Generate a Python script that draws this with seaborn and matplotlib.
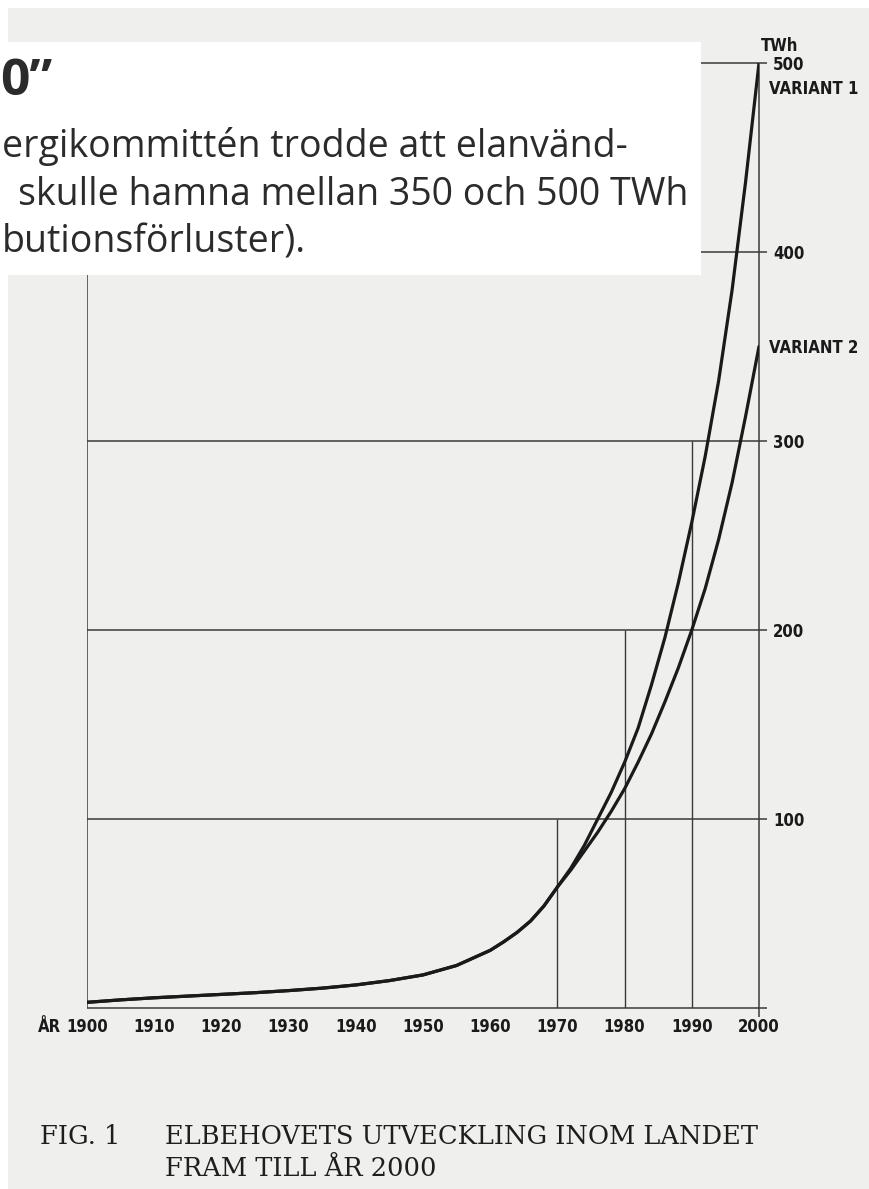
import matplotlib
matplotlib.use("Agg")
import matplotlib.pyplot as plt
import seaborn as sns
import pandas as pd
from matplotlib.patches import Rectangle

# --- data (TWh) ---
years_common = [1900, 1905, 1910, 1915, 1920, 1925, 1930, 1935, 1940, 1945,
                1950, 1955, 1960, 1962, 1964, 1966, 1968, 1970]
twh_common = [3.0, 4.3, 5.4, 6.3, 7.2, 8.1, 9.2, 10.5, 12.2, 14.5,
              17.5, 22.5, 30.5, 35, 40, 46, 54, 64]

years_forecast = [1972, 1974, 1976, 1978, 1980, 1982, 1984, 1986, 1988, 1990,
                  1992, 1994, 1996, 1998, 2000]
twh_variant1 = [74, 86, 100, 114, 130, 148, 171, 196, 225, 257,
                292, 332, 380, 437, 500]
twh_variant2 = [73, 83, 93, 104, 116, 130, 145, 162, 180, 200,
                222, 248, 278, 313, 350]

x_ticks = list(range(1900, 2001, 10))
y_ticks = [100, 200, 300, 400, 500]
inner_vlines = [1970, 1980, 1990]
inner_vtops = [100, 200, 300]
variant_labels = ["VARIANT 1", "VARIANT 2"]

rows = []
for name, fc in zip(variant_labels, [twh_variant1, twh_variant2]):
    for y, v in zip(years_common + years_forecast, twh_common + fc):
        rows.append({"year": y, "twh": v, "variant": name})
df = pd.DataFrame(rows)

sns.set_style("white")
cond = ["Liberation Sans Narrow", "DejaVu Sans"]
ink = "#1a1a1a"
grid = "#3a3a3a"

W, H = 870, 1189
fig = plt.figure(figsize=(W / 100, H / 100), dpi=100, facecolor="white")

# scanned page background
fig.patches.append(Rectangle((8 / W, 0), 1, 1 - 8 / H, transform=fig.transFigure,
                             facecolor="#efefed", edgecolor="none", zorder=-10))

ax = fig.add_axes([87 / W, 1 - 1008 / H, (759 - 87) / W, (1008 - 63) / H])
ax.set_facecolor("none")
ax.set_xlim(1900, 2000)
ax.set_ylim(0, 500)

# grid structure
ax.hlines([0] + y_ticks, 1900, 2001.2, color=grid, lw=1.1, clip_on=False, zorder=1)
ax.vlines(1900, 0, 500, color=grid, lw=1.1, zorder=1)
ax.vlines(2000, -5, 500, color=grid, lw=1.1, clip_on=False, zorder=1)
ax.vlines(inner_vlines, 0, inner_vtops, color=grid, lw=1.0, zorder=1)

sns.lineplot(data=df, x="year", y="twh", hue="variant", palette=[ink, ink],
             estimator=None, sort=False, linewidth=2.3, legend=False, ax=ax, zorder=3)

for s in ax.spines.values():
    s.set_visible(False)
ax.set_xlabel("")
ax.set_ylabel("")

lab = dict(family=cond, fontweight="bold", fontstretch="condensed", color=ink)

ax.set_xticks(x_ticks)
ax.set_xticklabels([str(t) for t in x_ticks], fontsize=12, **lab)
ax.tick_params(axis="x", direction="out", length=4.5, width=1.1, color=grid, pad=2.5)
ax.annotate("ÅR", xy=(1900, 0), xytext=(-18.5, -7), textcoords="offset points",
            ha="right", va="top", fontsize=12, annotation_clip=False, **lab)

ax.yaxis.tick_right()
ax.set_yticks(y_ticks)
ax.set_yticklabels([str(t) for t in y_ticks], fontsize=12, **lab)
ax.tick_params(axis="y", length=0, pad=10)

side_kw = dict(fontsize=12, ha="left", va="center", clip_on=False, **lab)
ax.text(2000.3, 509, "TWh", **side_kw)
ax.text(2001.5, twh_variant1[-1] - 14, variant_labels[0], **side_kw)
ax.text(2001.5, twh_variant2[-1] - 1, variant_labels[1], **side_kw)

# caption
cap_kw = dict(family=["DejaVu Serif", "Liberation Serif"], fontsize=18.5,
              color="#1e1e1e", va="center", ha="left")
fig.text(40 / W, 1 - 1137 / H, "FIG. 1", **cap_kw)
fig.text(165 / W, 1 - 1137 / H, "ELBEHOVETS UTVECKLING INOM LANDET", **cap_kw)
fig.text(165 / W, 1 - 1168 / H, "FRAM TILL ÅR 2000", **cap_kw)

# slide overlay box
fig.patches.append(Rectangle((0, 1 - 275 / H), 701 / W, (275 - 42) / H,
                             transform=fig.transFigure, facecolor="white",
                             edgecolor="none", zorder=5))
box_kw = dict(family=["Open Sans", "DejaVu Sans"], color="#2b2b2b", ha="left",
              va="center", zorder=6)
fig.text(0, 1 - 82 / H, "0\u201d", fontsize=37, fontweight="bold", **box_kw)
fig.text(2 / W, 1 - 147 / H, "ergikommittén trodde att elanvänd-", fontsize=27, **box_kw)
fig.text(18 / W, 1 - 195 / H, "skulle hamna mellan 350 och 500 TWh", fontsize=27, **box_kw)
fig.text(2 / W, 1 - 243 / H, "butionsförluster).", fontsize=27, **box_kw)

fig.savefig("out.png", dpi=100, facecolor=fig.get_facecolor())
